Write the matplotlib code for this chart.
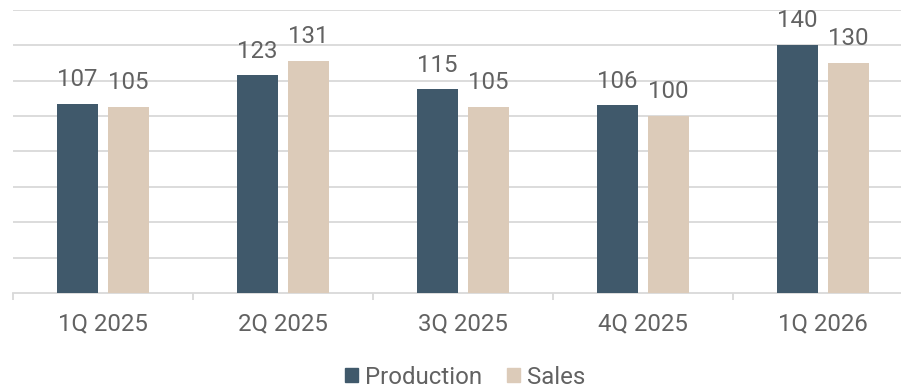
import matplotlib
matplotlib.use("Agg")
import matplotlib.pyplot as plt
from matplotlib.patches import Patch
import numpy as np

plt.rcParams['font.family'] = ['Roboto', 'DejaVu Sans']

categories = ["1Q 2025", "2Q 2025", "3Q 2025", "4Q 2025", "1Q 2026"]
production = [107, 123, 115, 106, 140]
sales = [105, 131, 105, 100, 130]

c_prod = "#40596b"
c_sales = "#dccbb9"
c_text = "#626262"
c_grid = "#d9d9d9"
fs = 17.3

W, H = 901, 388
fig = plt.figure(figsize=(W / 100, H / 100), dpi=100)
ax = fig.add_axes([13 / W, 95 / H, 900 / W, 283.3 / H])

x = np.arange(len(categories))
bw = 0.225
off = 0.143
b1 = ax.bar(x - off, production, bw, color=c_prod, zorder=3)
b2 = ax.bar(x + off, sales, bw, color=c_sales, zorder=3)

for bars in (b1, b2):
    for r in bars:
        ax.annotate(f"{r.get_height():.0f}",
                    (r.get_x() + r.get_width() / 2, r.get_height()),
                    xytext=(0, 12.7), textcoords="offset points",
                    ha="center", va="baseline", fontsize=fs, color=c_text)

ax.set_xlim(-0.5, len(categories) - 0.5)
ax.set_ylim(0, 160)
ax.set_yticks(np.arange(20, 161, 20))
ax.yaxis.grid(True, color=c_grid, linewidth=1.3, zorder=0)
ax.tick_params(axis="y", length=0, labelleft=False)

ax.set_xticks(x)
ax.set_xticklabels(categories, fontsize=fs, color=c_text)
ax.set_xticks(np.arange(-0.5, len(categories), 1), minor=True)
ax.tick_params(axis="x", which="major", length=0, pad=14)
ax.tick_params(axis="x", which="minor", length=5, width=1.3, color=c_grid)

for s in ("top", "right", "left"):
    ax.spines[s].set_visible(False)
ax.spines["bottom"].set_color(c_grid)
ax.spines["bottom"].set_linewidth(1.3)

handles = [Patch(color=c_prod, label="Production"), Patch(color=c_sales, label="Sales")]
fig.legend(handles=handles, loc="center", bbox_to_anchor=(465 / W, 1 - 377 / H),
           ncol=2, frameon=False, fontsize=fs, labelcolor=c_text,
           handlelength=0.55, handleheight=0.55, handletextpad=0.27,
           columnspacing=1.05, borderpad=0)

fig.savefig("out.png", dpi=100)
